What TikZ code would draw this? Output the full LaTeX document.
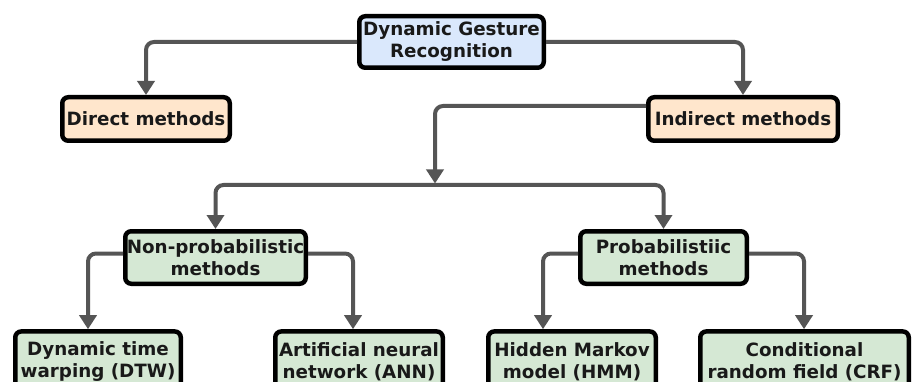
\documentclass[tikz,border=0pt]{standalone}
\usepackage{fontspec}
\setmainfont{DejaVu Sans}
\usetikzlibrary{arrows.meta}
\definecolor{edgegray}{HTML}{555555}
\definecolor{rootblue}{HTML}{DAE8FC}
\definecolor{peach}{HTML}{FFE6CC}
\definecolor{mint}{HTML}{D5E8D4}
\begin{document}
\begin{tikzpicture}[x=1pt,y=-1pt,
  box/.style={draw=black, line width=4.5pt, rounded corners=6pt, align=center,
    inner sep=0pt, font=\bfseries\fontsize{18.3}{22}\selectfont, text=black!90},
  link/.style={draw=edgegray, line width=4pt, rounded corners=8pt},
  arr/.style={link, -{Triangle[length=14pt,width=17pt]}}]
\clip (0,0) rectangle (912,382);
\fill[white] (0,0) rectangle (912,382);

% boxes
\node[box, fill=rootblue, minimum width=184.5, minimum height=51.5] (root) at (451.5,42) {Dynamic Gesture\\Recognition};
\node[box, fill=peach, minimum width=167.5, minimum height=43.5] (direct) at (146,119) {Direct methods};
\node[box, fill=peach, minimum width=189.5, minimum height=43.5] (indirect) at (743,119) {Indirect methods};
\node[box, fill=mint, minimum width=180.5, minimum height=52.5] (nonprob) at (215.5,257.5) {Non-probabilistic\\methods};
\node[box, fill=mint, minimum width=166.5, minimum height=52.5] (prob) at (663.5,257.5) {Probabilistiic\\methods};
\node[box, fill=mint, minimum width=165.5, minimum height=60.4, anchor=north] (dtw) at (98,329.2) {Dynamic time\\warping (DTW)};
\node[box, fill=mint, minimum width=167.5, minimum height=60.4, anchor=north] (ann) at (359,329.2) {Artificial neural\\network (ANN)};
\node[box, fill=mint, minimum width=167.5, minimum height=60.4, anchor=north] (hmm) at (572,329.2) {Hidden Markov\\model (HMM)};
\node[box, fill=mint, minimum width=208.5, minimum height=60.4, anchor=north] (crf) at (804.5,329.2) {Conditional\\random field (CRF)};

% junction below the indirect branch
\coordinate (join) at (435,185);

% connectors
\draw[arr] (root.west) -| (direct.north);
\draw[arr] (root.east) -| (indirect.north);
\draw[arr] ([yshift=13pt]indirect.west) -| ([yshift=1.5pt]join);
\draw[arr] (join) -| (nonprob.north);
\draw[arr] (join) -| (prob.north);
\draw[arr] ([yshift=4pt]nonprob.west) -| (dtw.north -| 88,0);
\draw[arr] ([yshift=4pt]nonprob.east) -| (ann.north -| 353,0);
\draw[arr] ([yshift=4pt]prob.west) -| (hmm.north -| 543,0);
\draw[arr] ([yshift=4pt]prob.east) -| (crf.north -| 804,0);
\end{tikzpicture}
\end{document}
